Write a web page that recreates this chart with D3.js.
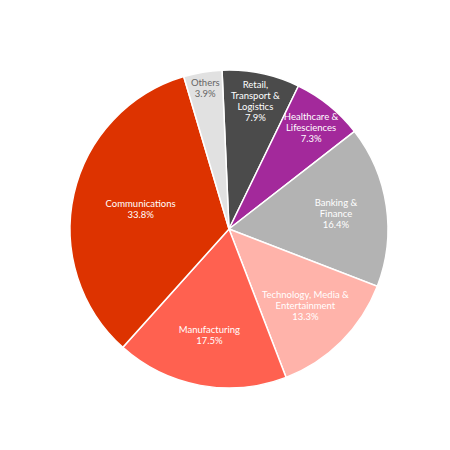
<!DOCTYPE html><html><head><meta charset="utf-8"><script src="https://cdn.jsdelivr.net/npm/d3@7"></script>
<style>body{margin:0;background:#fff}</style></head><body><svg width="450" height="450"></svg><script>
const categories=[["Retail,","Transport &","Logistics"],["Healthcare &","Lifesciences"],["Banking &","Finance"],["Technology, Media &","Entertainment"],["Manufacturing"],["Communications"],["Others"]];
const values=[7.9,7.3,16.4,13.3,17.5,33.8,3.9];
const colors=["#4b4b4b","#a3299b","#b3b3b3","#ffb3aa","#ff6150","#dd3300","#e1e1e1"];
const textColors=["#fff","#fff","#fff","#fff","#fff","#fff","#666"];
const svg=d3.select("svg"),cx=229,cy=229,R=159;
const g=svg.append("g").attr("transform",`translate(${cx},${cy})`);
const off=-0.044;
const pie=d3.pie().sort(null).startAngle(off).endAngle(off+2*Math.PI)(values);
const arc=d3.arc().innerRadius(0).outerRadius(R);
g.selectAll("path").data(pie).join("path").attr("d",arc).attr("fill",(d,i)=>colors[i]).attr("stroke","#fff").attr("stroke-width",1.5);
pie.forEach((d,i)=>{
 const v=values[i];const k=v<5?0.9:v<10?0.82:v>30?0.57:0.68;
 const a=(d.startAngle+d.endAngle)/2;
 const x=Math.sin(a)*R*k,y=-Math.cos(a)*R*k;
 const lines=categories[i].concat([v.toFixed(1)+"%"]);
 const t=g.append("text").attr("text-anchor","middle").attr("font-family","Lato, sans-serif").attr("font-size",9.5).attr("fill",textColors[i]);
 const h=11,y0=y-(lines.length-1)*h/2+3.5;
 lines.forEach((l,j)=>t.append("tspan").attr("x",x).attr("y",y0+j*h).text(l));
});
</script></body></html>
